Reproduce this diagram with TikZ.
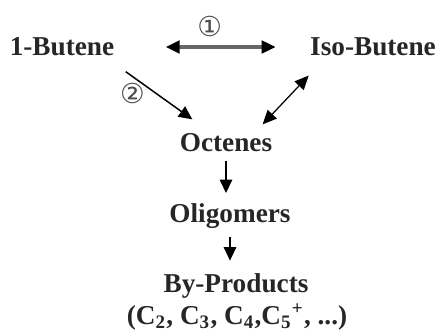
\documentclass[tikz,border=0pt]{standalone}
\usepackage{fontspec}
\setmainfont{Liberation Serif}
\newfontfamily\circfont{DejaVu Sans}
\usetikzlibrary{positioning,arrows.meta}

\begin{document}
\begin{tikzpicture}[x=0.4pt,y=0.4pt, every node/.style={font=\fontsize{10.9}{13}\selectfont\bfseries,inner sep=0pt}, species/.style={text=black!85}, routemark/.style={font=\fontsize{11}{12}\selectfont\circfont\mdseries,text=black!70}, arrow/.style={-{Triangle[length=5.4pt,width=5pt]},line width=0.6pt}, twoway/.style={{Triangle[length=5.6pt,width=5pt,color=black]}-{Triangle[length=5.6pt,width=5pt,color=black]},line width=1.3pt,draw=black!60}]
\useasboundingbox (0,0) rectangle (438,334);
\node[species] (butene) at (62,287) {1-Butene};
\node[species] (iso) at (373,287) {Iso-Butene};
\node[species] (octenes) at (226,191) {Octenes};
\node[species] (oligo) at (230,118) {Oligomers};
\node[species] (byprod) at (236,48) {By-Products};
\node[species] (cuts) at (237,17) {(C\textsubscript{2}, C\textsubscript{3}, C\textsubscript{4},C\textsubscript{5}\textsuperscript{+}, ...)};
\draw[twoway,shorten <=20.4pt,shorten >=13.6pt] (butene.east) -- (iso.west) node[routemark,midway,yshift=8.2pt,xshift=-1pt] (r1) {①};
\draw[arrow] ([shift={(11,-15)}]butene.south east) -- ([shift={(13,14)}]octenes.north west) node[routemark,pos=0.2,xshift=-2.6pt,yshift=-4.9pt] (r2) {②};
\draw[{Triangle[length=5.6pt,width=5pt]}-{Triangle[length=5.6pt,width=5pt]},line width=0.5pt] ([shift={(-10,9)}]octenes.north east) -- ([shift={(-1,-19)}]iso.south west);
\draw[arrow,shorten <=3.2pt,shorten >=4pt] (octenes.south) -- (octenes.south |- oligo.north);
\draw[arrow,shorten <=3.2pt,shorten >=5pt] (oligo.south) -- (oligo.south |- byprod.north);
\end{tikzpicture}
\end{document}
